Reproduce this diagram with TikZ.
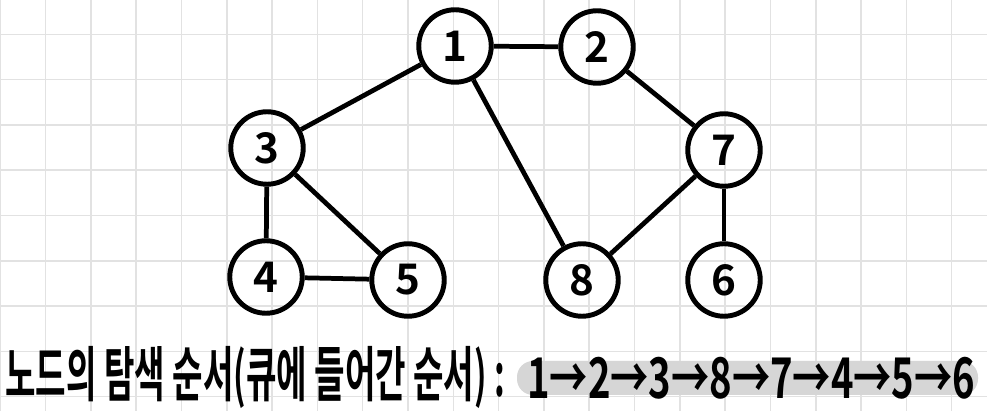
\documentclass[tikz,border=0pt]{standalone}
\usepackage{fontspec}
\setmainfont{Noto Sans CJK KR}[BoldFont={* Bold}]
\usepackage{tikz}
\usepackage{xcolor}
\usetikzlibrary{positioning,calc}
\definecolor{paper}{HTML}{FFFFFF}
\definecolor{ink}{HTML}{000000}
\definecolor{gridgray}{HTML}{E2E2E2}
\definecolor{pillgray}{HTML}{D6D6D6}
\tikzset{
  vertex/.style={circle,draw=ink,line width=2.8pt,minimum size=1.45cm,
                 inner sep=0pt,font=\fontsize{24}{26}\selectfont\bfseries},
  edge/.style={draw=ink,line width=2.7pt},
  gridline/.style={draw=gridgray,line width=0.9pt},
  seqbar/.style={fill=pillgray,rounded corners=0.32cm}
}

\begin{document}
\begin{tikzpicture}[x=0.02cm,y=-0.02cm]
  \useasboundingbox[fill=paper] (0,0) rectangle (987,411);
  % notebook grid
  \foreach \i in {0,...,21} {
    \draw[gridline] ({0.3+45.3*\i},0) -- ({0.3+45.3*\i},411);
  }
  \foreach \j in {0,...,8} {
    \draw[gridline] (0,{34.3+45.3*\j}) -- (987,{34.3+45.3*\j});
  }
  % vertices
  \node[vertex] (n1) at (455,46) {1};
  \node[vertex] (n2) at (597,47) {2};
  \node[vertex] (n3) at (267,148) {3};
  \node[vertex] (n7) at (724,150) {7};
  \node[vertex] (n4) at (266,277) {4};
  \node[vertex] (n5) at (408,280) {5};
  \node[vertex] (n8) at (582,280) {8};
  \node[vertex] (n6) at (724,280) {6};
  % edges
  \foreach \a/\b in {n1/n2,n1/n3,n1/n8,n2/n7,n3/n4,n3/n5,n4/n5,n7/n8,n7/n6} {
    \draw[edge] (\a) -- (\b);
  }
  % visiting order
  \fill[seqbar] (517,361) rectangle (978,395);
  \node[anchor=west,inner sep=0pt,font=\fontsize{34}{36}\selectfont\bfseries] (caption) at (5,377)
    {\resizebox{10cm}{\height}{노드의 탐색 순서(큐에 들어간 순서) :}};
  \node[anchor=west,inner sep=0pt,font=\fontsize{32}{34}\selectfont\bfseries] (order) at (527,378)
    {\resizebox{8.96cm}{\height}{1→2→3→8→7→4→5→6}};
\end{tikzpicture}
\end{document}
